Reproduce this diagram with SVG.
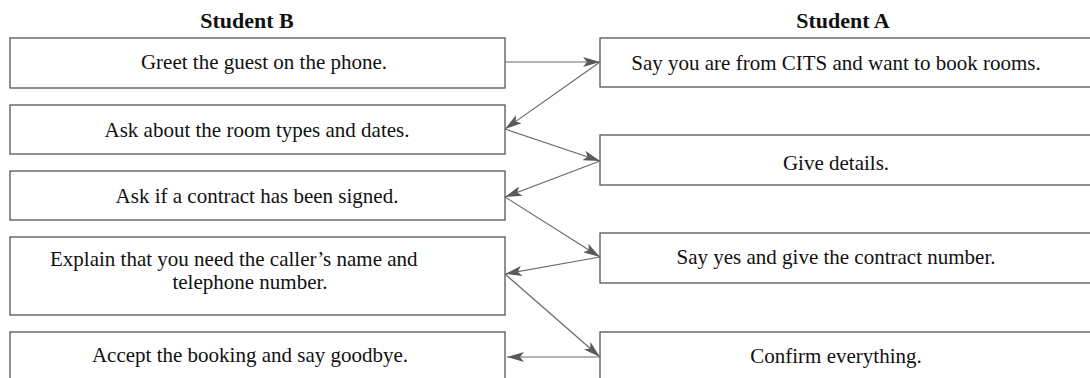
<svg xmlns="http://www.w3.org/2000/svg" width="1090" height="378" viewBox="0 0 1090 378">
  <style>
    .box { fill: #ffffff; stroke: #555555; stroke-width: 1.3; }
    .t { font-family: "Liberation Serif", "Times New Roman", serif; font-size: 21px; fill: #111111; }
    .title { font-family: "Liberation Serif", "Times New Roman", serif; font-size: 22px; font-weight: bold; fill: #111111; text-anchor: middle; }
    .mid { text-anchor: middle; }
    .conn { stroke: #6a6a6a; stroke-width: 1.2; fill: none; marker-end: url(#ah); }
  </style>
  <defs>
    <marker id="ah" viewBox="0 0 17 10" markerUnits="userSpaceOnUse" markerWidth="17" markerHeight="10" refX="17" refY="5" orient="auto">
      <path d="M0,0 L17,5 L0,10 L4,5 Z" fill="#5a5a5a"/>
    </marker>
  </defs>
  <rect width="1090" height="378" fill="#ffffff"/>

  <text class="title" x="247" y="28">Student B</text>
  <text class="title" x="843" y="28">Student A</text>

  <g id="b1"><rect class="box" x="10" y="38" width="495" height="50"/><text class="t mid" x="264" y="69">Greet the guest on the phone.</text></g>
  <g id="b2"><rect class="box" x="10" y="105" width="495" height="49"/><text class="t mid" x="257" y="137">Ask about the room types and dates.</text></g>
  <g id="b3"><rect class="box" x="10" y="171" width="495" height="49"/><text class="t mid" x="257" y="203">Ask if a contract has been signed.</text></g>
  <g id="b4"><rect class="box" x="10" y="237" width="495" height="78"/><text class="t" x="50" y="266">Explain that you need the caller’s name and</text><text class="t mid" x="250" y="289">telephone number.</text></g>
  <g id="b5"><rect class="box" x="10" y="332" width="495" height="60"/><text class="t mid" x="250" y="362">Accept the booking and say goodbye.</text></g>

  <g id="a1"><rect class="box" x="600" y="38" width="500" height="49"/><text class="t mid" x="836" y="70">Say you are from CITS and want to book rooms.</text></g>
  <g id="a2"><rect class="box" x="600" y="135" width="500" height="50"/><text class="t mid" x="836" y="170">Give details.</text></g>
  <g id="a3"><rect class="box" x="600" y="233" width="500" height="50"/><text class="t mid" x="836" y="264">Say yes and give the contract number.</text></g>
  <g id="a4"><rect class="box" x="600" y="332" width="500" height="60"/><text class="t mid" x="836" y="363">Confirm everything.</text></g>

  <g id="connectors">
    <line class="conn" x1="505" y1="62" x2="600" y2="62"/>
    <line class="conn" x1="600" y1="62" x2="505" y2="129"/>
    <line class="conn" x1="505" y1="129" x2="600" y2="161"/>
    <line class="conn" x1="600" y1="161" x2="505" y2="197"/>
    <line class="conn" x1="505" y1="197" x2="600" y2="257"/>
    <line class="conn" x1="600" y1="257" x2="505" y2="274"/>
    <line class="conn" x1="505" y1="274" x2="600" y2="357"/>
    <line class="conn" x1="600" y1="357" x2="507" y2="357"/>
  </g>
</svg>
